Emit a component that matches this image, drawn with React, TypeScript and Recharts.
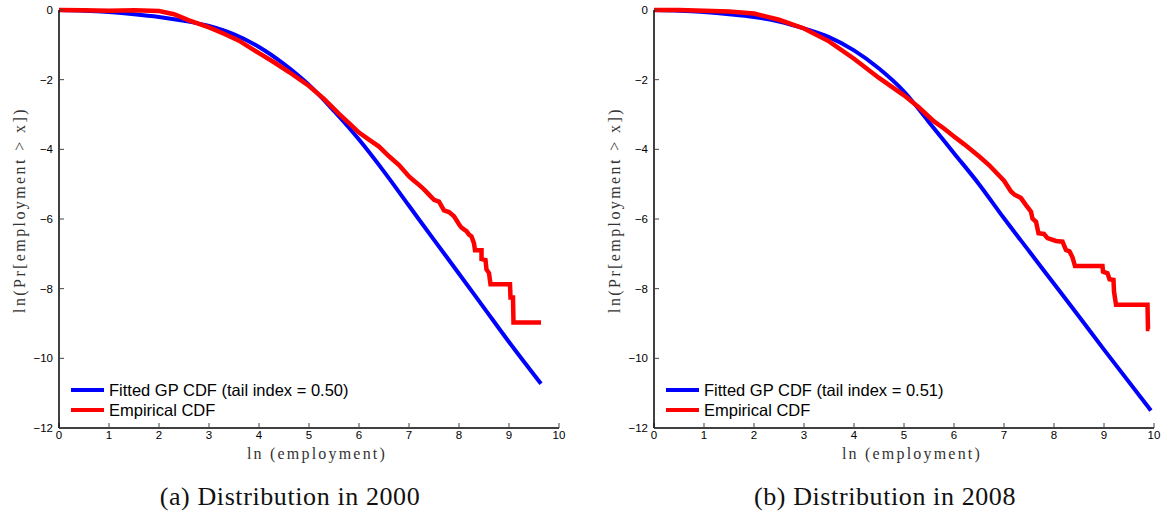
import { LineChart, Line, XAxis, YAxis } from 'recharts';

// ---- data ----
const xTicks = [0, 1, 2, 3, 4, 5, 6, 7, 8, 9, 10];
const yTicks = [-12, -10, -8, -6, -4, -2, 0];

// 2000
const fitX2000 = [0, 0.5, 1, 1.5, 2, 2.5, 3, 3.5, 4, 4.5, 5, 5.5, 6, 6.5, 7, 7.5, 8, 8.5, 9, 9.64];
const fitY2000 = [0, -0.02, -0.06, -0.12, -0.2, -0.31, -0.46, -0.7, -1.06, -1.55, -2.15, -2.9, -3.72, -4.64, -5.62, -6.6, -7.57, -8.55, -9.53, -10.73];
const empX2000 = [0, 0.5, 1, 1.5, 2, 2.3, 2.6, 3, 3.3, 3.6, 4, 4.3, 4.6, 5, 5.3, 5.6, 5.8, 6, 6.2, 6.4, 6.6, 6.8, 7, 7.1, 7.2, 7.3, 7.4, 7.5, 7.6, 7.7, 7.8, 7.9, 8, 8.05, 8.15, 8.2, 8.25, 8.3, 8.32, 8.45, 8.45, 8.53, 8.55, 8.6, 8.63, 9.02, 9.03, 9.08, 9.09, 9.64];
const empY2000 = [0, -0.005, -0.02, -0.01, -0.03, -0.12, -0.3, -0.5, -0.68, -0.88, -1.24, -1.5, -1.78, -2.18, -2.55, -2.98, -3.25, -3.52, -3.72, -3.92, -4.2, -4.45, -4.78, -4.9, -5.02, -5.15, -5.3, -5.45, -5.5, -5.75, -5.8, -5.92, -6.15, -6.25, -6.35, -6.45, -6.5, -6.7, -6.9, -6.9, -7.15, -7.18, -7.45, -7.55, -7.87, -7.87, -8.25, -8.25, -8.97, -8.97];

// 2008
const fitX2008 = [0, 0.5, 1, 1.5, 2, 2.5, 3, 3.5, 4, 4.5, 5, 5.5, 6, 6.5, 7, 7.5, 8, 8.5, 9, 9.94];
const fitY2008 = [0, -0.02, -0.06, -0.12, -0.2, -0.33, -0.53, -0.78, -1.16, -1.68, -2.34, -3.22, -4.11, -5.0, -5.98, -6.92, -7.86, -8.8, -9.75, -11.5];
const empX2008 = [0, 0.5, 1, 1.5, 2, 2.5, 3, 3.5, 4, 4.5, 5, 5.3, 5.6, 5.8, 6, 6.2, 6.5, 6.7, 7, 7.14, 7.21, 7.34, 7.44, 7.54, 7.57, 7.64, 7.69, 7.8, 7.87, 8.04, 8.17, 8.24, 8.31, 8.37, 8.42, 8.97, 8.98, 9.07, 9.11, 9.19, 9.2, 9.24, 9.87, 9.88, 9.91];
const empY2008 = [0, 0, -0.02, -0.04, -0.1, -0.28, -0.53, -0.9, -1.4, -1.95, -2.45, -2.8, -3.2, -3.4, -3.63, -3.85, -4.2, -4.45, -4.9, -5.21, -5.3, -5.4, -5.6, -5.79, -5.99, -6.08, -6.41, -6.43, -6.55, -6.63, -6.65, -6.89, -6.93, -7.1, -7.35, -7.35, -7.51, -7.56, -7.73, -7.75, -8.08, -8.46, -8.46, -9.16, -9.16];

const toPoints = (xs: number[], ys: number[]) => xs.map((x, i) => ({ x, y: ys[i] }));

const minus = (v: number) => String(v).replace('-', '\u2212');

interface PanelProps {
  left: number;
  fitted: { x: number; y: number }[];
  empirical: { x: number; y: number }[];
  tailIndex: string;
  caption: string;
}

const Panel = ({ left, fitted, empirical, tailIndex, caption }: PanelProps) => {
  const tickStyle = { fill: '#000', fontSize: 11.5, fontFamily: 'Liberation Sans, Arial, sans-serif' };
  return (
    <div style={{ position: 'absolute', left, top: 0, width: 580, height: 516 }}>
      <LineChart width={580} height={470} margin={{ top: 10, right: 21, bottom: 0, left: 0 }}>
        <XAxis
          xAxisId="b"
          dataKey="x"
          type="number"
          domain={[0, 10]}
          ticks={xTicks}
          height={42}
          tickSize={-5}
          tickMargin={8}
          tick={tickStyle}
          axisLine={{ stroke: '#000', strokeWidth: 1.5 }}
          tickLine={{ stroke: '#444' }}
          label={{
            content: () => (
              <text x={317} y={459} textAnchor="middle" fontFamily="Liberation Serif, serif" fontSize={16} letterSpacing={2.2} fill="#333">
                ln (employment)
              </text>
            ),
          }}
        />
        <XAxis
          xAxisId="t"
          orientation="top"
          dataKey="x"
          type="number"
          domain={[0, 10]}
          ticks={xTicks}
          height={0}
          tickSize={-5}
          tickFormatter={() => ''}
          axisLine={{ stroke: '#000', strokeWidth: 1.5 }}
          tickLine={{ stroke: '#444' }}
        />
        <YAxis
          yAxisId="l"
          type="number"
          domain={[-12, 0]}
          ticks={yTicks}
          width={59}
          tickSize={-5}
          tickMargin={11}
          tick={tickStyle}
          tickFormatter={minus}
          axisLine={{ stroke: '#000', strokeWidth: 1.5 }}
          tickLine={{ stroke: '#444' }}
          label={{
            content: () => (
              <text
                x={19}
                y={210}
                transform="rotate(-90 19 210)"
                textAnchor="middle"
                dominantBaseline="central"
                fontFamily="Liberation Serif, serif"
                fontSize={16}
                letterSpacing={2.4}
                fill="#333"
              >
                ln(Pr[employment &gt; x])
              </text>
            ),
          }}
        />
        <YAxis
          yAxisId="r"
          orientation="right"
          type="number"
          domain={[-12, 0]}
          ticks={yTicks}
          width={0}
          tickSize={-5}
          tickFormatter={() => ''}
          axisLine={{ stroke: '#000', strokeWidth: 1.5 }}
          tickLine={{ stroke: '#444' }}
        />
        <Line
          xAxisId="b"
          yAxisId="l"
          data={fitted}
          dataKey="y"
          type="monotone"
          stroke="#0000ff"
          strokeWidth={4}
          dot={false}
          isAnimationActive={false}
        />
        <Line
          xAxisId="b"
          yAxisId="l"
          data={empirical}
          dataKey="y"
          type="linear"
          stroke="#ff0000"
          strokeWidth={4.5}
          dot={false}
          isAnimationActive={false}
        />
      </LineChart>
      <div style={{ position: 'absolute', left: 71, top: 380, fontFamily: 'Liberation Sans, Arial, sans-serif', fontSize: 16.5, color: '#000', lineHeight: '20px' }}>
        <div style={{ display: 'flex', alignItems: 'center' }}>
          <span style={{ display: 'inline-block', width: 33, height: 3.5, background: '#0000ff', marginRight: 5 }} />
          Fitted GP CDF (tail index = {tailIndex})
        </div>
        <div style={{ display: 'flex', alignItems: 'center' }}>
          <span style={{ display: 'inline-block', width: 33, height: 3.5, background: '#ff0000', marginRight: 5 }} />
          Empirical CDF
        </div>
      </div>
      <div style={{ position: 'absolute', left: 0, width: 580, top: 482, textAlign: 'center', fontFamily: 'Liberation Serif, serif', fontSize: 26, letterSpacing: 0.6, lineHeight: '30px', color: '#111' }}>
        {caption}
      </div>
    </div>
  );
};

export default function App() {
  return (
    <div style={{ position: 'absolute', left: 0, top: 0, width: 1164, height: 516, background: '#fff' }}>
      <Panel left={0} fitted={toPoints(fitX2000, fitY2000)} empirical={toPoints(empX2000, empY2000)} tailIndex="0.50" caption="(a) Distribution in 2000" />
      <Panel left={595} fitted={toPoints(fitX2008, fitY2008)} empirical={toPoints(empX2008, empY2008)} tailIndex="0.51" caption="(b) Distribution in 2008" />
    </div>
  );
}
